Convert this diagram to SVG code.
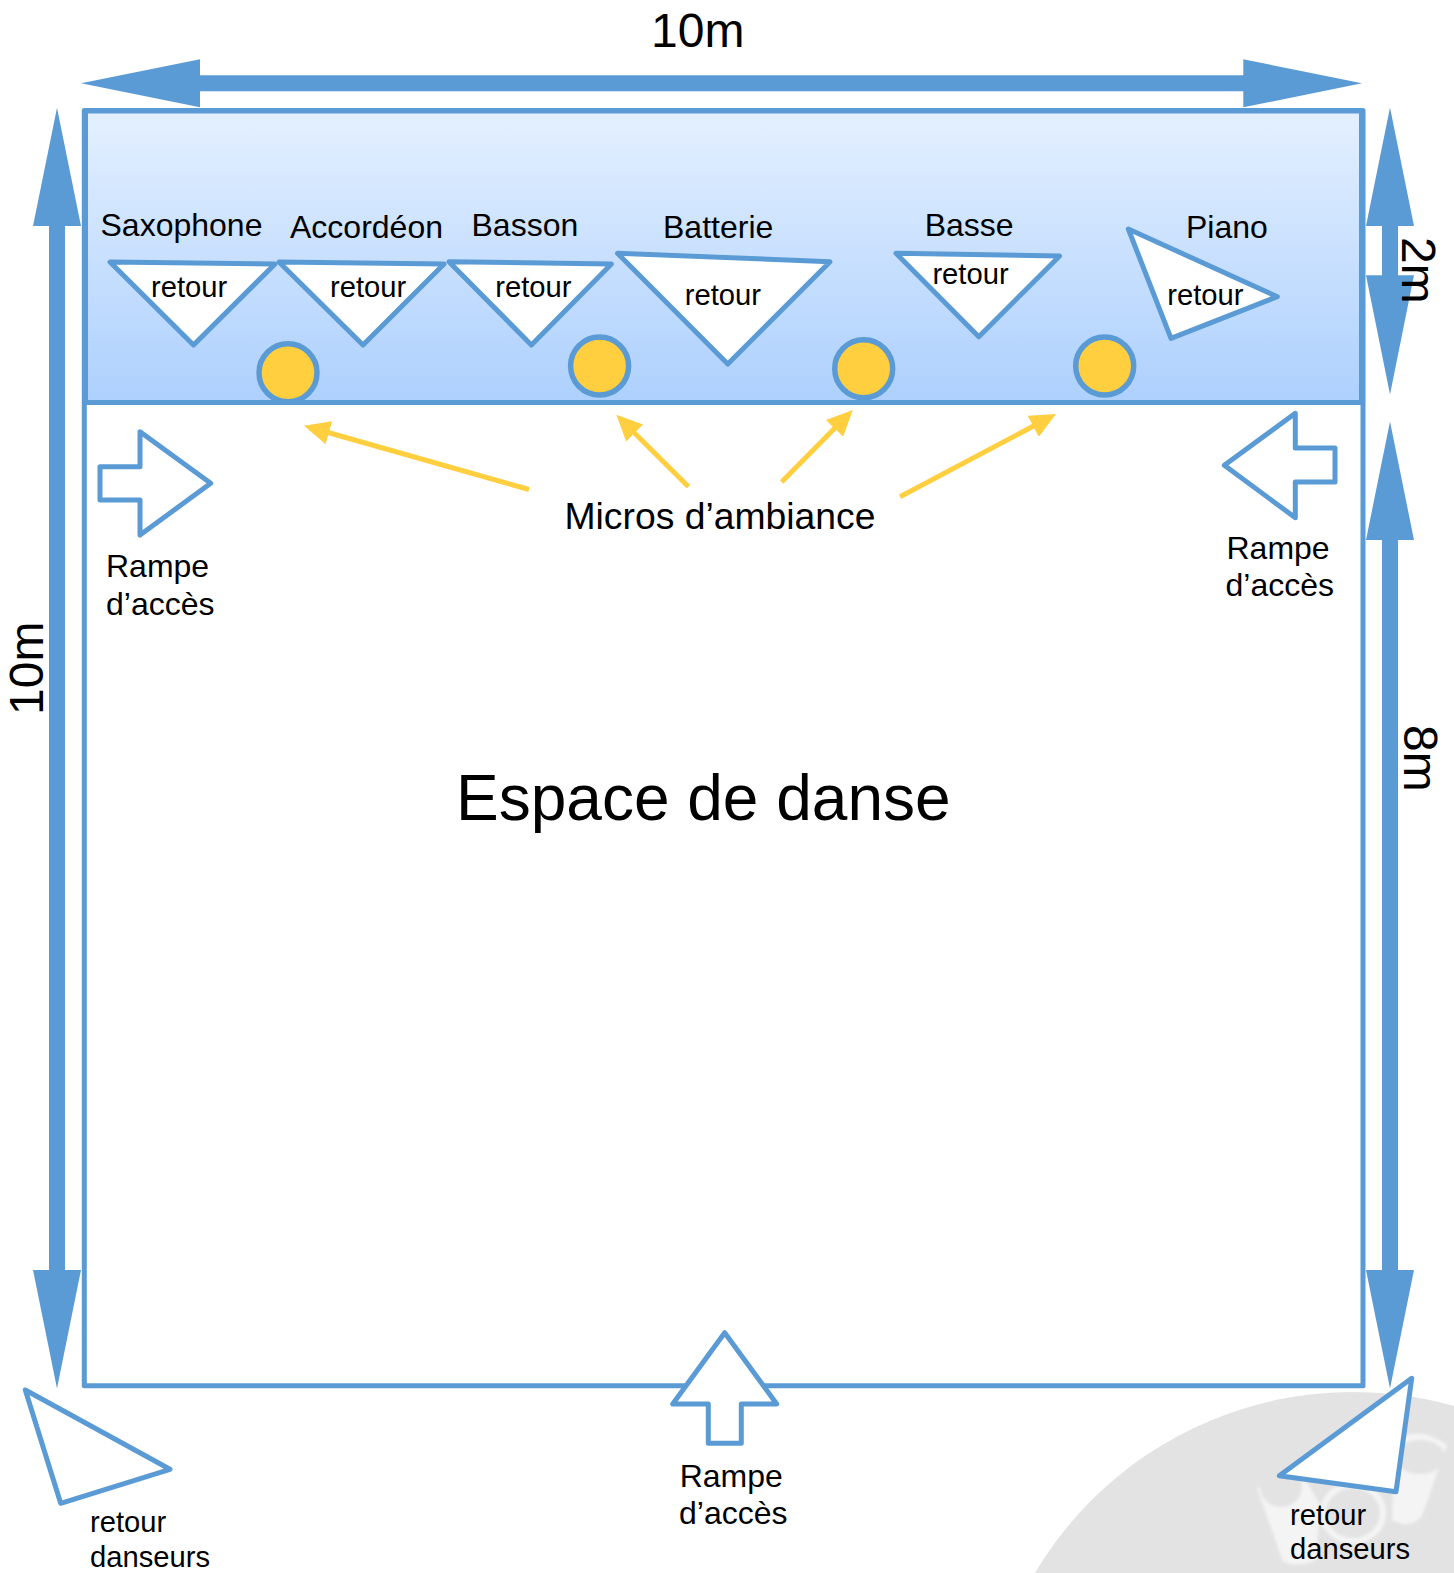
<svg xmlns="http://www.w3.org/2000/svg" width="1454" height="1573" viewBox="0 0 1454 1573">
<style>
text{font-family:"Liberation Sans",Arial,sans-serif;fill:#000}
.s{font-size:32px}
.r{font-size:29.2px}
.d{font-size:48px}
.b{fill:#5B9BD5}
.t{fill:#fff;stroke:#5B9BD5;stroke-width:5;stroke-linejoin:round}
.m{fill:#FFCF3F;stroke:#5B9BD5;stroke-width:5.5}
.y{stroke:#FFCF3F;stroke-width:5;fill:none;marker-end:url(#ya)}
</style>
<defs>
<linearGradient id="g" x1="0" y1="0" x2="0" y2="1"><stop offset="0" stop-color="#E4F0FF"/><stop offset="1" stop-color="#ADD0FD"/></linearGradient>
<marker id="ya" markerUnits="userSpaceOnUse" markerWidth="26" markerHeight="24" refX="1" refY="12" orient="auto"><path d="M0 0L26 12L0 24z" fill="#FFCF3F"/></marker>
<filter id="soft" x="-10%" y="-10%" width="120%" height="120%"><feGaussianBlur stdDeviation="1.5"/></filter>
</defs>
<rect width="1454" height="1573" fill="#fff"/>
<g id="watermark">
<circle cx="1353" cy="1762" r="370" fill="#E3E3E3"/>
<g filter="url(#soft)">
<path d="M1257 1488L1283 1562Q1300 1568 1316 1560L1320 1505L1300 1470Z" fill="#F4F4F4"/>
<ellipse cx="1281" cy="1487" rx="21" ry="20" fill="#E3E3E3"/>
<path d="M1395 1440L1392 1520Q1410 1530 1422 1516L1447 1445Q1420 1425 1395 1440Z" fill="#F4F4F4"/>
<ellipse cx="1420" cy="1457" rx="25" ry="17" fill="#E3E3E3"/>
<ellipse cx="1353" cy="1513" rx="30" ry="28" fill="#E3E3E3" stroke="#F4F4F4" stroke-width="6"/>
</g>
</g>
<g id="floor">
<rect x="84.3" y="110.5" width="1278.7" height="1275.3" fill="#fff" stroke="#5B9BD5" stroke-width="5" stroke-linejoin="round"/>
</g>
<g id="stage">
<rect x="85.5" y="111" width="1276" height="291.5" fill="url(#g)" stroke="#5B9BD5" stroke-width="5" stroke-linejoin="round"/>
</g>
<g id="connectors">
<path class="b" d="M81 83.3L200 59.3V75.3H1243.3V59.3L1362 83.3L1243.3 107.3V91.3H200V107.3Z"/>
<path class="b" d="M57 107.7L81 226H65V1270H81L57 1388.5L33 1270H49V226H33Z"/>
<path class="b" d="M1390 107.5L1414 226H1398V275.3H1414L1390 394.5L1366 275.3H1382V226H1366Z"/>
<path class="b" d="M1390 421.5L1414 540H1398V1270H1414L1390 1388.5L1366 1270H1382V540H1366Z"/>
<line class="y" x1="529" y1="489.5" x2="328" y2="432.5"/>
<line class="y" x1="688.5" y1="486.7" x2="634" y2="432.4"/>
<line class="y" x1="781.6" y1="482" x2="835.2" y2="427.8"/>
<line class="y" x1="900" y1="496.7" x2="1034" y2="425.8"/>
</g>
<g id="mic1"><circle class="m" cx="288" cy="372.7" r="29"/></g>
<g id="mic2"><circle class="m" cx="599.6" cy="366" r="29"/></g>
<g id="mic3"><circle class="m" cx="863.7" cy="368.7" r="29"/></g>
<g id="mic4"><circle class="m" cx="1104.7" cy="366" r="29"/></g>
<g id="saxophone"><polygon class="t" points="110,262 275,264 193.5,345"/><text class="s" x="100.5" y="236">Saxophone</text><text class="r" x="151" y="297">retour</text></g>
<g id="accordeon"><polygon class="t" points="279,262 444,264 363,345"/><text class="s" x="290" y="237.5">Accordéon</text><text class="r" x="330" y="297">retour</text></g>
<g id="basson"><polygon class="t" points="449,261.7 611.4,264 531.4,345"/><text class="s" x="471.5" y="236">Basson</text><text class="r" x="495.3" y="297">retour</text></g>
<g id="batterie"><polygon class="t" points="617.5,253.3 830,261.7 727.8,364"/><text class="s" x="663" y="237.7">Batterie</text><text class="r" x="684.7" y="305">retour</text></g>
<g id="basse"><polygon class="t" points="896,253.3 1059.6,256 978.8,336.7"/><text class="s" x="924.7" y="236">Basse</text><text class="r" x="932.4" y="284.3">retour</text></g>
<g id="piano"><polygon class="t" points="1128.3,229 1277.3,296.7 1171,338.3"/><text class="s" x="1186" y="238.3">Piano</text><text class="r" x="1167.3" y="305">retour</text></g>
<g id="rampe-gauche"><polygon class="t" points="140,431.7 210.7,483.3 140,535 140,500 100,500 100,466.7 140,466.7"/><text class="s" x="106" y="576.7">Rampe</text><text class="s" x="106" y="615">d’accès</text></g>
<g id="rampe-droite"><polygon class="t" points="1224.3,465.3 1295.3,413.3 1295.3,448 1335,448 1335,482 1295.3,482 1295.3,517.7"/><text class="s" x="1226.5" y="559">Rampe</text><text class="s" x="1225.5" y="596">d’accès</text></g>
<g id="rampe-bas"><polygon class="t" points="724.7,1332.7 776.7,1404 741.3,1404 741.3,1443.3 708.3,1443.3 708.3,1404 672.7,1404"/><text class="s" x="679.7" y="1486.7">Rampe</text><text class="s" x="679" y="1523.8">d’accès</text></g>
<g id="retour-danseurs-gauche"><polygon class="t" points="25.3,1390 170,1469.3 60.7,1503.3"/><text class="r" x="90" y="1532">retour</text><text class="r" x="90" y="1566.5">danseurs</text></g>
<g id="retour-danseurs-droite"><polygon class="t" points="1411.7,1378.3 1396,1491.7 1279.3,1475.7"/><text class="r" x="1290" y="1525">retour</text><text class="r" x="1290" y="1559">danseurs</text></g>
<g id="labels">
<text class="d" x="651" y="46.5">10m</text>
<text class="d" transform="translate(43 715) rotate(-90)">10m</text>
<text class="d" transform="translate(1402 237) rotate(90)">2m</text>
<text class="d" transform="translate(1404 725) rotate(90)">8m</text>
<text x="564.5" y="529.3" style="font-size:37.3px">Micros d’ambiance</text>
<text x="456" y="820" style="font-size:64px">Espace de danse</text>
</g>
</svg>
